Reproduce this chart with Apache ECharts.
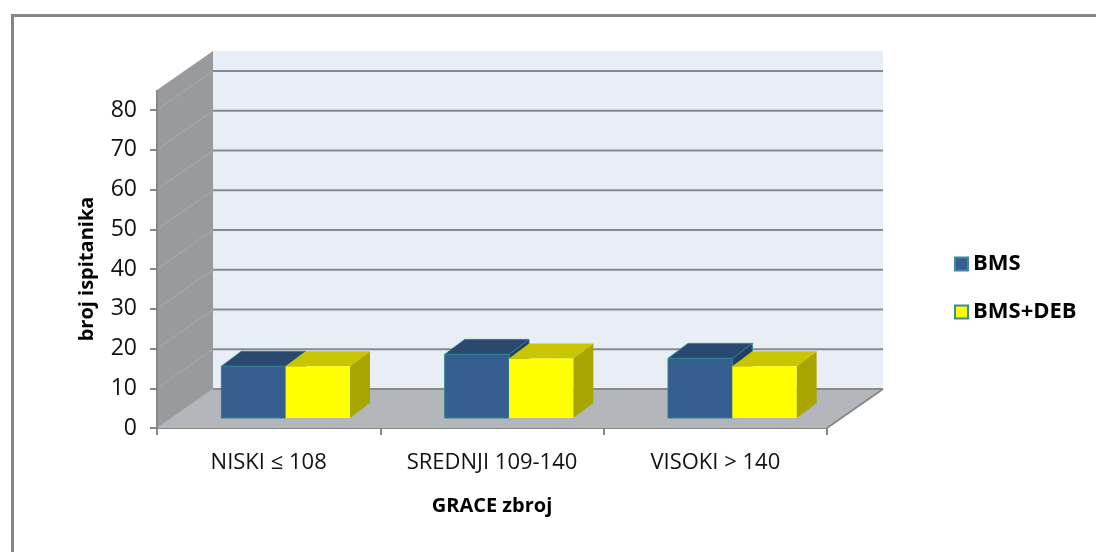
<!DOCTYPE html>
<html>
<head>
<meta charset="utf-8">
<script src="https://cdn.jsdelivr.net/npm/echarts@6/dist/echarts.min.js"></script>
<style>
  html, body { margin: 0; padding: 0; background: #fff; }
  #main { width: 1096px; height: 552px; }
</style>
</head>
<body>
<div id="main"></div>
<script>
// podaci
const categories = ['NISKI ≤ 108', 'SREDNJI 109-140', 'VISOKI > 140'];
const bms = [13, 16, 15];
const bmsDeb = [13, 15, 13];
const yMax = 80;
const yStep = 10;

const fontFam = '"Open Sans", "Noto Sans", sans-serif';
// dubina zidova (3D pomak)
const DX = 56, DY = -39;

const chart = echarts.init(document.getElementById('main'));

function wallsItem(params, api) {
  const cs = params.coordSys;
  const x0 = cs.x, x1 = cs.x + cs.width;
  const y0 = cs.y + cs.height, yt = cs.y - 20;
  const kids = [];
  // bocni zid
  kids.push({ type: 'polygon', shape: { points: [[x0, y0], [x0, yt], [x0 + DX, yt + DY], [x0 + DX, y0 + DY]] },
    style: { fill: '#989a9e' } });
  // straznji zid
  kids.push({ type: 'rect', shape: { x: x0 + DX, y: yt + DY, width: x1 - x0, height: y0 - yt } ,
    style: { fill: '#e8eef6' } });
  // pod
  kids.push({ type: 'polygon', shape: { points: [[x0, y0], [x1, y0], [x1 + DX, y0 + DY], [x0 + DX, y0 + DY]] },
    style: { fill: '#b3b7bb' } });
  for (let v = 0; v <= yMax; v += yStep) {
    const y = api.coord([0, v])[1];
    kids.push({ type: 'line', shape: { x1: x0, y1: y, x2: x0 + DX, y2: y + DY },
      style: { stroke: '#a9abae', lineWidth: 1 } });
    kids.push({ type: 'line', shape: { x1: x0 + DX, y1: y + DY, x2: x1 + DX, y2: y + DY },
      style: { stroke: '#8a8a8a', lineWidth: 2 } });
  }
  // rubovi
  kids.push({ type: 'line', shape: { x1: x1, y1: y0, x2: x1 + DX, y2: y0 + DY },
    style: { stroke: '#888', lineWidth: 2 } });
  kids.push({ type: 'line', shape: { x1: x0, y1: y0, x2: x0, y2: yt },
    style: { stroke: '#888', lineWidth: 2 } });
  return { type: 'group', children: kids };
}

function barRender(idx, colors) {
  return function (params, api) {
    const cat = api.value(0), v = api.value(1);
    const base = api.coord([cat, 0]);
    const top = api.coord([cat, v]);
    const band = api.size([1, 0])[0];
    const w = band * 0.288;
    const cx = base[0] + 17;
    const l = idx === 0 ? cx - w : cx, r = l + w;
    const yb = base[1] - 10, yt = top[1] - 10;
    const bx = 20, by = -15;
    const st = { stroke: colors.edge, lineWidth: colors.edge ? 1 : 0 };
    return {
      type: 'group',
      children: [
        { type: 'polygon', shape: { points: [[r, yt], [r + bx, yt + by], [r + bx, yb + by], [r, yb]] },
          style: Object.assign({ fill: colors.side }, st) },
        { type: 'polygon', shape: { points: [[l, yt], [r, yt], [r + bx, yt + by], [l + bx, yt + by]] },
          style: Object.assign({ fill: colors.top }, st) },
        { type: 'rect', shape: { x: l, y: yt, width: w, height: yb - yt },
          style: Object.assign({ fill: colors.front }, st) }
      ]
    };
  };
}

const blue = { front: '#365f8f', top: '#2b4870', side: '#24405f', edge: '#2f8090' };
const yellow = { front: '#ffff00', top: '#c9c500', side: '#a9a500', edge: null };

chart.setOption({
  animation: false,
  grid: { left: 157, top: 110, width: 670, height: 318 },
  graphic: [{
    type: 'rect', left: 10, top: 13, z: -10,
    shape: { x: 0, y: 0, width: 1200, height: 600 },
    style: { fill: 'none', stroke: '#878787', lineWidth: 3 }
  }],
  legend: {
    orient: 'vertical', left: 949, top: 248, itemGap: 26,
    itemWidth: 13, itemHeight: 13,
    textStyle: { fontFamily: fontFam, fontWeight: 'bold', fontSize: 22, color: '#000', padding: [0, 0, 0, 0] },
    data: [
      { name: 'BMS', icon: 'rect', itemStyle: { color: blue.front, borderColor: '#3d8b9c', borderWidth: 2 } },
      { name: 'BMS+DEB', icon: 'rect', itemStyle: { color: yellow.front, borderColor: '#3d8b9c', borderWidth: 2 } }
    ]
  },
  xAxis: {
    type: 'category', data: categories,
    name: 'GRACE zbroj', nameLocation: 'middle', nameGap: 68,
    nameTextStyle: { fontFamily: fontFam, fontWeight: 'bold', fontSize: 20, color: '#000' },
    axisLine: { lineStyle: { color: '#888', width: 2 } },
    axisTick: { show: true, length: 7, lineStyle: { color: '#888', width: 2 } },
    axisLabel: { fontFamily: fontFam, fontSize: 22, color: '#111', margin: 24 },
    splitLine: { show: false }
  },
  yAxis: {
    type: 'value', min: 0, max: yMax, interval: yStep,
    name: 'broj ispitanika', nameLocation: 'middle', nameGap: 60, nameRotate: 90,
    nameTextStyle: { fontFamily: fontFam, fontWeight: 'bold', fontSize: 20, color: '#000' },
    axisLine: { show: true, lineStyle: { color: '#888', width: 2 } },
    axisTick: { show: true, length: 7, lineStyle: { color: '#888', width: 2 } },
    axisLabel: { fontFamily: fontFam, fontSize: 23, color: '#111', margin: 20 },
    splitLine: { show: false }
  },
  series: [
    { type: 'custom', name: 'walls', silent: true, clip: false, z: 1,
      data: [[0, 0]], renderItem: wallsItem },
    { type: 'custom', name: 'BMS', clip: false, z: 3, itemStyle: { color: blue.front },
      data: bms.map((v, i) => [i, v]), encode: { x: 0, y: 1 }, renderItem: barRender(0, blue) },
    { type: 'custom', name: 'BMS+DEB', clip: false, z: 4, itemStyle: { color: yellow.front },
      data: bmsDeb.map((v, i) => [i, v]), encode: { x: 0, y: 1 }, renderItem: barRender(1, yellow) }
  ]
});
</script>
</body>
</html>
